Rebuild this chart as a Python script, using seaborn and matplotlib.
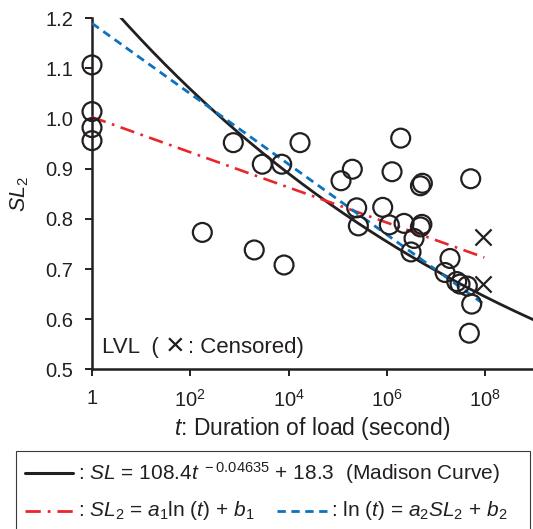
import numpy as np
import pandas as pd
import matplotlib
matplotlib.use("Agg")
import matplotlib.pyplot as plt
from matplotlib.lines import Line2D
from matplotlib.patches import Rectangle
import seaborn as sns

# ---------------- data ----------------
# tested specimens (open circles): log10 of duration (s) and SL2
circle_log_t = [0, 0, 0, 0,
                2.244, 2.874, 3.30, 3.464, 3.859, 3.906, 4.231,
                5.065, 5.295, 5.384, 5.418, 5.913,
                6.048, 6.103, 6.279, 6.347, 6.489, 6.55,
                6.68, 6.72, 6.68, 6.71,
                7.181, 7.282, 7.418, 7.486, 7.634, 7.675, 7.703, 7.723]
circle_sl2 = [1.107, 1.014, 0.982, 0.956,
              0.773, 0.952, 0.738, 0.909, 0.909, 0.708, 0.952,
              0.876, 0.899, 0.822, 0.786, 0.823,
              0.788, 0.894, 0.961, 0.791, 0.734, 0.761,
              0.866, 0.871, 0.784, 0.789,
              0.693, 0.721, 0.675, 0.670, 0.666, 0.572, 0.880, 0.630]
# censored specimens (crosses)
cens_log_t = [7.947, 7.959]
cens_sl2 = [0.764, 0.670]

# Madison curve parameters: SL = A t^B + C  (percent)
MAD_A, MAD_B, MAD_C = 108.4, -0.04635, 18.3
# fitted lines (end points)
red_log_t = [0.0, 7.98]
red_sl2 = [1.003, 0.723]
blue_log_t = [0.0, 7.94]
blue_sl2 = [1.19, 0.632]

xtick_exp = [0, 2, 4, 6, 8]
xtick_labels = ["1", "10$^2$", "10$^4$", "10$^6$", "10$^8$"]
ytick_vals = [0.5, 0.6, 0.7, 0.8, 0.9, 1.0, 1.1, 1.2]

# ---------------- style ----------------
sns.set_style("white")
plt.rcParams["font.family"] = ["Liberation Sans", "DejaVu Sans"]
plt.rcParams["mathtext.fontset"] = "custom"
plt.rcParams["mathtext.rm"] = "Liberation Sans"
plt.rcParams["mathtext.it"] = "Liberation Sans:italic"
plt.rcParams["mathtext.bf"] = "Liberation Sans:bold"
TXT = "#231f20"
RED = "#e8262d"
BLUE = "#0a72bf"
RED_LS = (0, (5.5, 2.5, 1.0, 2.5))
BLUE_LS = (0, (3, 2))

W, H = 533, 529
fig = plt.figure(figsize=(W / 100, H / 100), dpi=100)
ax = fig.add_axes([92 / W, 1 - 369.3 / H, (533 - 92) / W, (369.3 - 18.3) / H])

# ---------------- lines ----------------
t_grid = np.logspace(0, 9, 400)
mad_df = pd.DataFrame({"t": t_grid, "sl2": (MAD_A * t_grid ** MAD_B + MAD_C) / 100})
sns.lineplot(data=mad_df, x="t", y="sl2", color=TXT, lw=2.0, ax=ax, zorder=3)

red_df = pd.DataFrame({"t": 10 ** np.array(red_log_t), "sl2": red_sl2})
sns.lineplot(data=red_df, x="t", y="sl2", color=RED, lw=1.9,
             linestyle=RED_LS, ax=ax, zorder=3)
blue_df = pd.DataFrame({"t": 10 ** np.array(blue_log_t), "sl2": blue_sl2})
sns.lineplot(data=blue_df, x="t", y="sl2", color=BLUE, lw=2.0,
             linestyle=BLUE_LS, ax=ax, zorder=3)

# ---------------- points ----------------
circ_df = pd.DataFrame({"t": 10 ** np.array(circle_log_t), "sl2": circle_sl2})
sns.scatterplot(data=circ_df, x="t", y="sl2", marker="o", s=185,
                facecolors="none", edgecolor=TXT, linewidth=1.6, ax=ax,
                zorder=4, clip_on=False)
cens_df = pd.DataFrame({"t": 10 ** np.array(cens_log_t), "sl2": cens_sl2})
sns.scatterplot(data=cens_df, x="t", y="sl2", marker="x", s=135,
                color=TXT, linewidth=1.6, ax=ax, zorder=4, clip_on=False)

# ---------------- axes ----------------
ax.set_xscale("log")
ax.set_xlim(1, 10 ** 8.97)
ax.set_ylim(0.5, 1.2)
ax.set_xticks([10.0 ** e for e in xtick_exp])
ax.set_xticklabels(xtick_labels)
ax.minorticks_off()
ax.set_yticks(ytick_vals)
ax.set_yticklabels([f"{v:.1f}" for v in ytick_vals])
for s in ["top", "right"]:
    ax.spines[s].set_visible(False)
for s in ["left", "bottom"]:
    ax.spines[s].set_color(TXT)
    ax.spines[s].set_linewidth(1.8)
ax.tick_params(axis="both", direction="out", length=5, width=1.4, color=TXT,
               labelsize=14.5, labelcolor=TXT, left=True, bottom=True)
ax.tick_params(axis="y", pad=8.5)
ax.tick_params(axis="x", pad=9)
ax.set_xlabel("$t$: Duration of load (second)", fontsize=16.5, color=TXT, labelpad=3)
ax.set_ylabel("$SL_2$", fontsize=15.5, color=TXT, labelpad=10)

# in-plot note "LVL  (×: Censored)" in three pieces so the cross is large
yn = 1 - 347.5 / H
fig.text(101.5 / W, yn, "LVL  (", fontsize=16, color=TXT, va="center", ha="left")
fig.text(175 / W, yn, "\u00d7", fontsize=23, color=TXT, va="center", ha="center")
fig.text(188 / W, yn, ": Censored)", fontsize=16, color=TXT, va="center", ha="left")

# ---------------- legend box (drawn manually) ----------------
fig.add_artist(Rectangle((16 / W, -0.01), (530 - 16) / W, (529 - 451.3) / H + 0.01,
                         transform=fig.transFigure, fill=False, lw=0.8,
                         edgecolor="#3a3a3a"))
y1 = 1 - 473.3 / H
y2 = 1 - 511 / H
fig.add_artist(Line2D([25 / W, 73 / W], [y1, y1], transform=fig.transFigure,
                      color=TXT, lw=2.2))
fig.add_artist(Line2D([25 / W, 73 / W], [y2, y2], transform=fig.transFigure,
                      color=RED, lw=2.0, linestyle=RED_LS))
fig.add_artist(Line2D([277 / W, 330 / W], [y2, y2], transform=fig.transFigure,
                      color=BLUE, lw=2.0, linestyle=BLUE_LS))
fig.text(78 / W, y1, ": $SL$ = 108.4$t^{\\ -0.04635}$ + 18.3  (Madison Curve)",
         fontsize=15, color=TXT, va="center", ha="left")
fig.text(78 / W, y2, ": $SL_2$ = $a_1$ln ($t$) + $b_1$",
         fontsize=15, color=TXT, va="center", ha="left")
fig.text(331 / W, y2, ": ln ($t$) = $a_2SL_2$ + $b_2$",
         fontsize=15, color=TXT, va="center", ha="left")

fig.savefig("out.png", dpi=100)
